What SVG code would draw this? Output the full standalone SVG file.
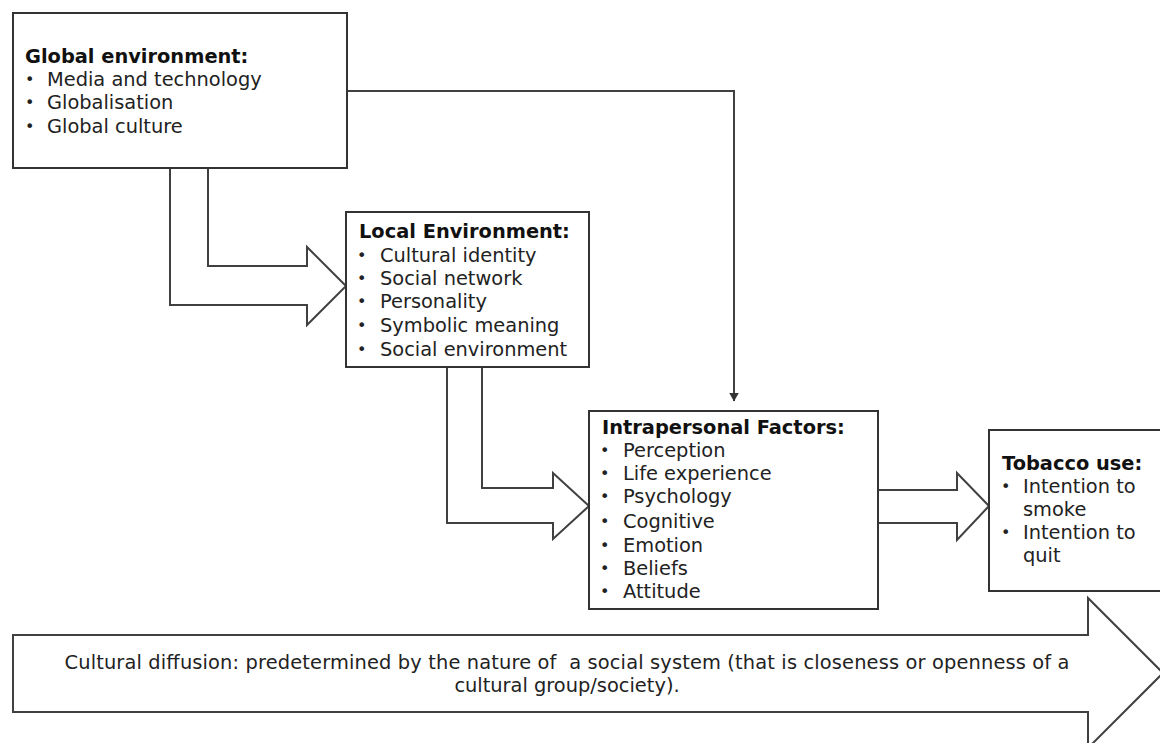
<svg xmlns="http://www.w3.org/2000/svg" width="1160" height="743" viewBox="0 0 1160 743">
<style>
.box{fill:#fff;stroke:#333;stroke-width:2}
.blk{fill:#fff;stroke:#404040;stroke-width:2;stroke-linejoin:miter}
.ln{fill:none;stroke:#404040;stroke-width:2}
text{font-family:"DejaVu Sans",Verdana,sans-serif;font-size:19.4px;fill:#222}
.t{font-weight:bold;fill:#111}
.b{font-size:16px}
</style>
<defs>
<marker id="ah" markerWidth="10" markerHeight="9" refX="5" refY="8.5" orient="0" markerUnits="userSpaceOnUse">
<path d="M0,0 L10,0 L5,9 Z" fill="#333"/>
</marker>
</defs>
<rect width="1160" height="743" fill="#fff"/>
<g id="connectors">
<path class="blk" d="M170,168 V305 H307 V325 L346,286 L307,247 V266 H208 V168"/>
<path class="blk" d="M447,367 V523 H553 V539 L589,506 L553,473 V488 H482 V367"/>
<path class="blk" d="M878,490 H957 V473 L989,506 L957,540 V523 H878"/>
<path class="ln" d="M347,91 H734 V401" marker-end="url(#ah)"/>
</g>
<g id="global">
<rect class="box" x="13" y="13" width="334" height="155"/>
<text class="t" x="25" y="63">Global environment:</text>
<text class="b" x="25" y="85">•</text><text x="47" y="86">Media and technology</text>
<text class="b" x="25" y="108">•</text><text x="47" y="109">Globalisation</text>
<text class="b" x="25" y="132">•</text><text x="47" y="133">Global culture</text>
</g>
<g id="local">
<rect class="box" x="346" y="212" width="243" height="155"/>
<text class="t" x="359" y="238">Local Environment:</text>
<text class="b" x="357" y="261">•</text><text x="380" y="262">Cultural identity</text>
<text class="b" x="357" y="284">•</text><text x="380" y="285">Social network</text>
<text class="b" x="357" y="307">•</text><text x="380" y="308">Personality</text>
<text class="b" x="357" y="331">•</text><text x="380" y="332">Symbolic meaning</text>
<text class="b" x="357" y="355">•</text><text x="380" y="356">Social environment</text>
</g>
<g id="intrapersonal">
<rect class="box" x="589" y="411" width="289" height="198"/>
<text class="t" x="602" y="434">Intrapersonal Factors:</text>
<text class="b" x="600" y="456">•</text><text x="623" y="457">Perception</text>
<text class="b" x="600" y="479">•</text><text x="623" y="480">Life experience</text>
<text class="b" x="600" y="502">•</text><text x="623" y="503">Psychology</text>
<text class="b" x="600" y="527">•</text><text x="623" y="528">Cognitive</text>
<text class="b" x="600" y="551">•</text><text x="623" y="552">Emotion</text>
<text class="b" x="600" y="574">•</text><text x="623" y="575">Beliefs</text>
<text class="b" x="600" y="597">•</text><text x="623" y="598">Attitude</text>
</g>
<g id="tobacco">
<rect class="box" x="989" y="430" width="180" height="161"/>
<text class="t" x="1002" y="470">Tobacco use:</text>
<text class="b" x="1001" y="492">•</text><text x="1023" y="493">Intention to</text>
<text x="1023" y="516">smoke</text>
<text class="b" x="1001" y="538">•</text><text x="1023" y="539">Intention to</text>
<text x="1023" y="562">quit</text>
</g>
<g id="diffusion">
<path class="blk" d="M13,635 H1088 V598 L1163,673 L1088,748 V712 H13 Z"/>
<text x="567" y="669" text-anchor="middle" textLength="1005" lengthAdjust="spacing" xml:space="preserve">Cultural diffusion: predetermined by the nature of  a social system (that is closeness or openness of a</text>
<text x="567" y="692" text-anchor="middle">cultural group/society).</text>
</g>
</svg>
